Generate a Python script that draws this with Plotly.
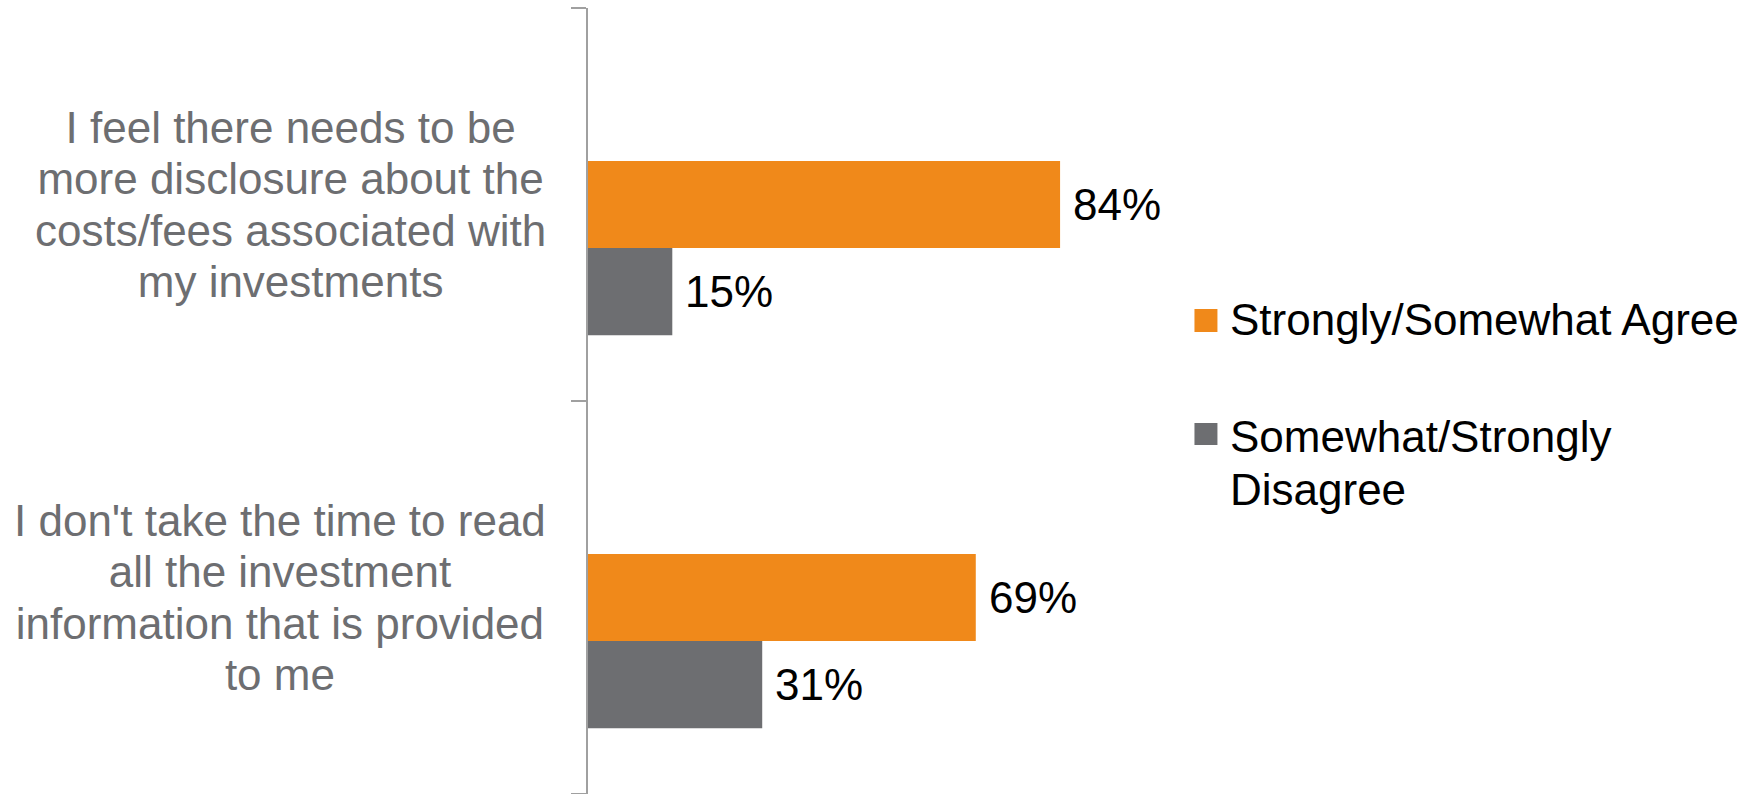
import plotly.graph_objects as go

# Survey statements (one entry per category, split into display lines)
statements = [
    ["I feel there needs to be", "more disclosure about the",
     "costs/fees associated with", "my investments"],
    ["I don't take the time to read", "all the investment",
     "information that is provided", "to me"],
]
series_names = ["Strongly/Somewhat Agree", "Somewhat/Strongly Disagree"]
legend_lines = [["Strongly/Somewhat Agree"], ["Somewhat/Strongly", "Disagree"]]
agree = [84, 69]
disagree = [15, 31]
colors = ["#F0891A", "#6D6E71"]

# Canvas and plot-area geometry (pixels)
W, H = 1758, 794
ML, MT, MB = 588, 8, 0
X_MAX = 100
PLOT_W = 562.5
MR = W - ML - PLOT_W
PLOT_H = H - MT - MB

FONT = "Liberation Sans, Arial, sans-serif"
LABEL_GREY = "#6D6E71"
AXIS_GREY = "#A0A0A0"

BAR_W = 0.222
offsets = [-0.111, 0.111]

positions = list(range(len(statements)))


def px_x(p):
    return (p - ML) / PLOT_W


def px_y(p):
    return (H - MB - p) / PLOT_H


fig = go.Figure()
for name, vals, color, off in zip(series_names, [agree, disagree], colors, offsets):
    fig.add_trace(go.Bar(
        x=vals, y=positions, orientation="h", name=name,
        width=BAR_W, offset=off,
        marker=dict(color=color, line=dict(width=0)),
        showlegend=False, hoverinfo="x+name",
    ))
    # value labels just past the end of each bar
    for v, pos in zip(vals, positions):
        fig.add_annotation(
            x=v, y=pos + off + BAR_W / 2, xref="x", yref="y",
            text=f"{v}%", showarrow=False, xanchor="left", yanchor="middle",
            xshift=11, font=dict(family=FONT, size=44, color="#000000"),
        )

# category labels, centred lines, right edge just left of the axis.
# The base size sets the line pitch; the glyphs themselves are drawn larger.
CAT_PITCH_FS = 39.6
CAT_GLYPH_FS = 44
for lines, pos in zip(statements, positions):
    text = "<br>".join(
        f'<span style="font-size:{CAT_GLYPH_FS}px">{ln}</span>' for ln in lines
    )
    fig.add_annotation(
        x=0, y=pos, xref="paper", yref="y", xanchor="right", yanchor="middle",
        xshift=-40, text=text, align="center", showarrow=False,
        font=dict(family=FONT, size=CAT_PITCH_FS, color=LABEL_GREY),
    )

# legend: coloured squares with labels (one text row per line)
LEG_FS = 44
LEG_LINE = 53
legend_items = [
    # (square top, square bottom, first-line centre)
    (309, 332, 318),
    (423, 445, 435),
]
for lines, color, (sq_t, sq_b, cy) in zip(legend_lines, colors, legend_items):
    fig.add_shape(
        type="rect", xref="paper", yref="paper",
        x0=px_x(1195), x1=px_x(1218), y0=px_y(sq_b), y1=px_y(sq_t),
        fillcolor=color, line=dict(width=0),
    )
    for k, line in enumerate(lines):
        fig.add_annotation(
            x=px_x(1229), y=px_y(cy + 1 + k * LEG_LINE),
            xref="paper", yref="paper",
            xanchor="left", yanchor="middle", align="left", showarrow=False,
            text=line, font=dict(family=FONT, size=LEG_FS, color="#000000"),
        )

fig.update_layout(
    width=W, height=H,
    margin=dict(l=ML, r=MR, t=MT, b=MB, pad=0),
    paper_bgcolor="white", plot_bgcolor="white",
    barmode="overlay",
    showlegend=False,
    font=dict(family=FONT),
)
fig.update_xaxes(range=[0, X_MAX], visible=False)
fig.update_yaxes(
    range=[len(statements) - 0.5, -0.5],
    tickvals=[-0.5 + i for i in range(len(statements) + 1)],
    showticklabels=False, ticks="outside", ticklen=15, tickwidth=1.5,
    tickcolor=AXIS_GREY, showline=True, linecolor=AXIS_GREY, linewidth=1.5,
    showgrid=False, zeroline=False,
)

fig.write_html("out.html")
